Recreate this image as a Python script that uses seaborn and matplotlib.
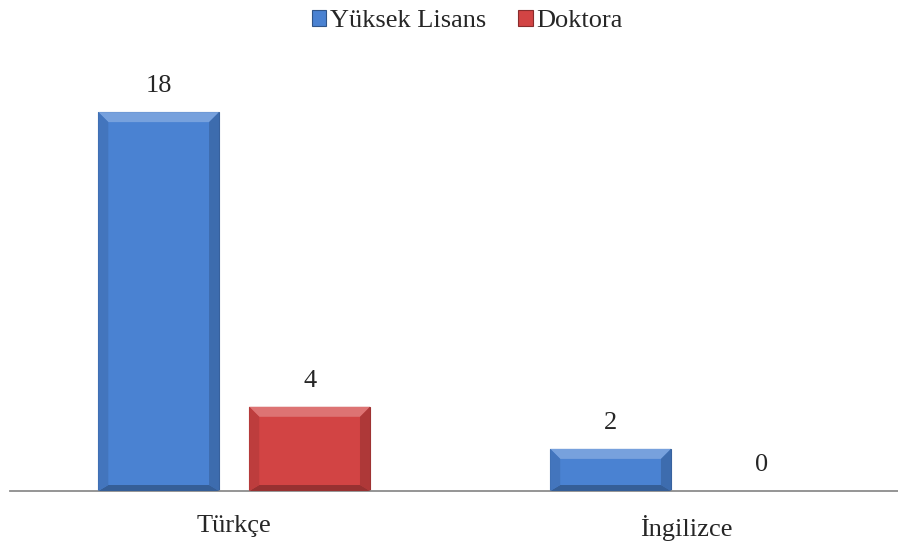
import pandas as pd
import matplotlib.pyplot as plt
import seaborn as sns
from matplotlib.patches import Polygon
from matplotlib.colors import to_rgb
plt.switch_backend("Agg")

languages = ["Türkçe", "İngilizce"]
degrees = ["Yüksek Lisans", "Doktora"]
yuksek_lisans = [18, 2]
doktora = [4, 0]

df = pd.DataFrame({
    "dil": languages * 2,
    "derece": [degrees[0]] * 2 + [degrees[1]] * 2,
    "sayi": yuksek_lisans + doktora,
})

sns.set_style("white")
plt.rcParams["font.family"] = ["Liberation Serif", "DejaVu Serif"]

colors = {"Yüksek Lisans": "#4a82d2", "Doktora": "#d24444"}

fig = plt.figure(figsize=(8.98, 5.43), dpi=100)
ax = fig.add_axes([10 / 898, 52 / 543, 888 / 898, 421 / 543])
sns.barplot(data=df, x="dil", y="sayi", hue="derece", palette=colors,
            width=0.668, gap=0.2, saturation=1, ax=ax, legend=True)

ax.set_xlim(-0.496, 1.469)
ax.set_ylim(0, 20)
for s in ["top", "right", "left"]:
    ax.spines[s].set_visible(False)
ax.spines["bottom"].set_color("#8c8c8c")
ax.spines["bottom"].set_linewidth(1.3)
ax.set_yticks([])
ax.set_xlabel("")
ax.set_ylabel("")
ax.tick_params(axis="x", length=0, labelsize=19, pad=17)

# soft bevel look on each bar
bx = 10 / 452
by = 10 / 21.05
for p in ax.patches:
    h = p.get_height()
    if h <= 0:
        continue
    x0, y0, w = p.get_x(), p.get_y(), p.get_width()
    x1, y1 = x0 + w, y0 + h
    base = to_rgb(p.get_facecolor())
    light = tuple(min(1, c * 0.75 + 0.25) for c in base)
    dark = tuple(c * 0.72 for c in base)
    side = tuple(c * 0.9 for c in base)
    d = min(by, h / 3)
    p.set_edgecolor(tuple(c * 0.75 for c in base))
    p.set_linewidth(0.8)
    ax.add_patch(Polygon([(x0, y1), (x1, y1), (x1 - bx, y1 - d), (x0 + bx, y1 - d)],
                         closed=True, facecolor=light, edgecolor="none", zorder=3))
    ax.add_patch(Polygon([(x0, y0), (x1, y0), (x1 - bx, y0 + d * 0.6), (x0 + bx, y0 + d * 0.6)],
                         closed=True, facecolor=dark, edgecolor="none", zorder=3))
    ax.add_patch(Polygon([(x1, y0), (x1, y1), (x1 - bx, y1 - d), (x1 - bx, y0 + d * 0.6)],
                         closed=True, facecolor=dark, edgecolor="none", zorder=3, alpha=0.6))
    ax.add_patch(Polygon([(x0, y0), (x0, y1), (x0 + bx, y1 - d), (x0 + bx, y0 + d * 0.6)],
                         closed=True, facecolor=side, edgecolor="none", zorder=3))

for cont in ax.containers:
    ax.bar_label(cont, fontsize=19, padding=11)

leg = ax.legend(loc="upper center", bbox_to_anchor=(0.515, 52 / 421 + 1 + 0.045), ncol=2,
                frameon=False, fontsize=19, handlelength=0.55, handleheight=0.55,
                handletextpad=0.15, columnspacing=1.2, borderaxespad=0)
for hnd in leg.legend_handles:
    fc = to_rgb(hnd.get_facecolor())
    hnd.set_edgecolor(tuple(c * 0.65 for c in fc))
    hnd.set_linewidth(0.8)

fig.savefig("out.png", dpi=100)
